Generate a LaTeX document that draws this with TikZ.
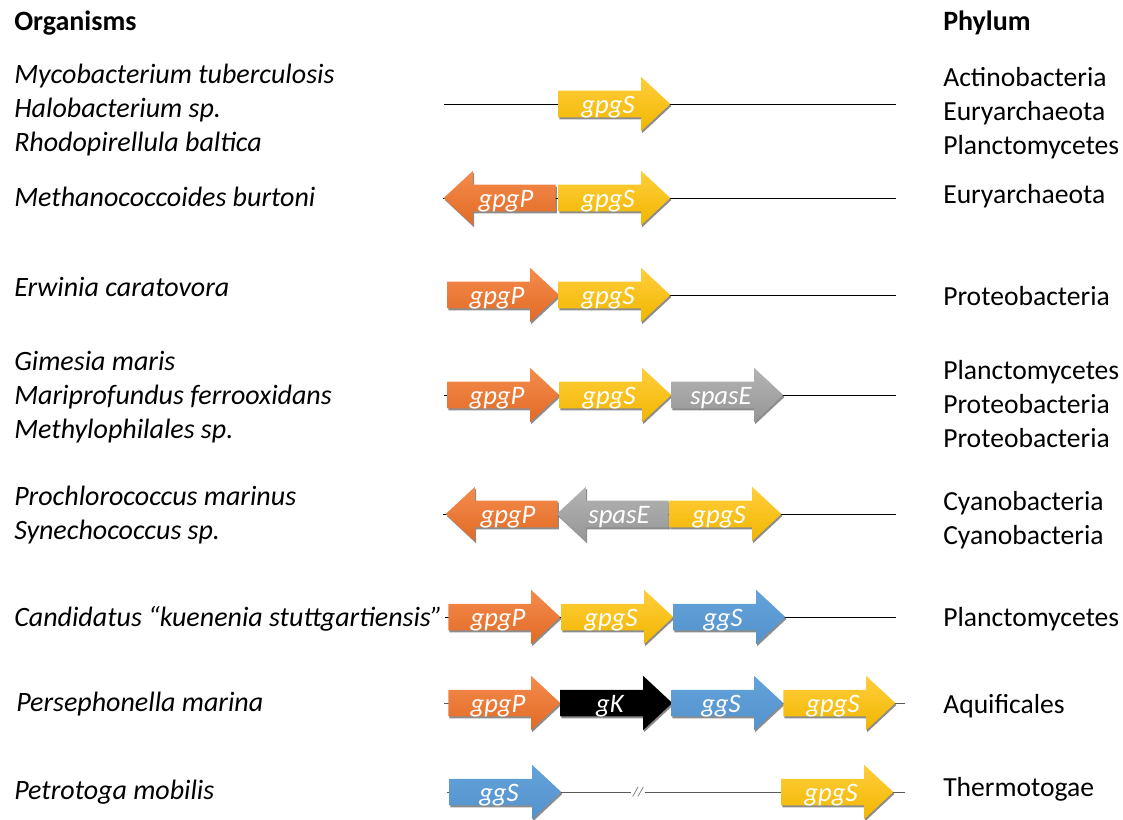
\documentclass[tikz,border=0pt]{standalone}
\usepackage{fontspec}
\setmainfont{Carlito}
\usetikzlibrary{shapes.arrows, shadows, calc}
\definecolor{orangetop}{RGB}{244,140,78}
\definecolor{orangebot}{RGB}{226,106,36}
\definecolor{goldtop}{RGB}{255,206,60}
\definecolor{goldbot}{RGB}{242,182,0}
\definecolor{greytop}{RGB}{180,180,180}
\definecolor{greybot}{RGB}{150,150,150}
\definecolor{bluetop}{RGB}{100,162,218}
\definecolor{bluebot}{RGB}{84,146,204}
\definecolor{blacktop}{RGB}{0,0,0}
\definecolor{blackbot}{RGB}{0,0,0}

\begin{document}
\begin{tikzpicture}[
    x=0.75pt, y=-0.75pt,
    gene/.style={single arrow, draw=none, inner xsep=0pt, inner ysep=9.75pt,
                 minimum height=84pt, minimum width=40.5pt,
                 single arrow head extend=10.5pt,
                 single arrow tip angle=86, anchor=tail,
                 top color=#1top, bottom color=#1bot,
                 drop shadow={shadow xshift=0.8pt, shadow yshift=-1.5pt,
                              opacity=0.45, fill=black}},
    rev/.style={shape border rotate=180},
    glabel/.style={anchor=base, text=white, inner sep=0pt,
                   font=\fontsize{20}{22}\selectfont\itshape},
    org/.style={anchor=base west, align=left, inner sep=0pt,
                font=\fontsize{21}{25.5}\selectfont\itshape},
    phy/.style={anchor=base west, align=left, inner sep=0pt,
                font=\fontsize{20.7}{25.5}\selectfont},
    head/.style={anchor=base west, inner sep=0pt,
                 font=\fontsize{21}{24}\selectfont\bfseries},
    dna/.style={draw=black, line width=0.6pt},
    dnagrey/.style={draw=black!65, line width=0.6pt}
  ]
  \useasboundingbox (0,0) rectangle (1123,819);

  % column headers
  \node[head] (orghead) at (14,30)  {Organisms};
  \node[head] (phyhead) at (943,30) {Phylum};

  % organisms (base = last line)
  \node[org] (org1) at (14,151) {Mycobacterium tuberculosis\\Halobacterium sp.\\Rhodopirellula baltica};
  \node[org] (org2) at (14,206) {Methanococcoides burtoni};
  \node[org] (org3) at (14,296) {Erwinia caratovora};
  \node[org] (org4) at (14,438) {Gimesia maris\\Mariprofundus ferrooxidans\\Methylophilales sp.};
  \node[org] (org5) at (14,539) {Prochlorococcus marinus\\Synechococcus sp.};
  \node[org] (org6) at (14,626) {Candidatus “kuenenia stuttgartiensis”};
  \node[org] (org7) at (16,711) {Persephonella marina};
  \node[org] (org8) at (14,799) {Petrotoga mobilis};

  % phyla
  \node[phy] (phy1) at (943,154) {Actinobacteria\\Euryarchaeota\\Planctomycetes};
  \node[phy] (phy2) at (943,203) {Euryarchaeota};
  \node[phy] (phy3) at (943,305) {Proteobacteria};
  \node[phy] (phy4) at (943,447) {Planctomycetes\\Proteobacteria\\Proteobacteria};
  \node[phy] (phy5) at (943,544) {Cyanobacteria\\Cyanobacteria};
  \node[phy] (phy6) at (943,626) {Planctomycetes};
  \node[phy] (phy7) at (943,713) {Aquificales};
  \node[phy] (phy8) at (943,796) {Thermotogae};

  % chromosome lines
  \coordinate (l1a) at (444,104); \coordinate (l1b) at (896,104);
  \coordinate (l2a) at (443,198); \coordinate (l2b) at (896,198);
  \coordinate (l3a) at (447,295); \coordinate (l3b) at (896,295);
  \coordinate (l4a) at (444,395); \coordinate (l4b) at (896,395);
  \coordinate (l5a) at (443,514); \coordinate (l5b) at (896,514);
  \coordinate (l6a) at (445,617); \coordinate (l6b) at (896,617);
  \coordinate (l7a) at (444,703); \coordinate (l7b) at (905,703);
  \coordinate (l8a) at (447,792); \coordinate (l8b) at (905,792);
  \node[inner sep=1.5pt, text=black!60, font=\fontsize{10}{12}\selectfont\itshape]
    (brk) at (638,792) {//};
  \draw[dna] (l1a) -- (l1b);
  \draw[dna] (l2a) -- (l2b);
  \draw[dna] (l3a) -- (l3b);
  \draw[dna] (l4a) -- (l4b);
  \draw[dna] (l5a) -- (l5b);
  \draw[dna] (l6a) -- (l6b);
  \draw[dnagrey] (l7a) -- (l7b);
  \draw[dnagrey] (l8a) -- (brk.west);
  \draw[dnagrey] (brk.east) -- (l8b);

  % gene clusters
  \node[gene=gold] (gpgS1) at (558,104) {};

  \node[gene=orange, rev] (gpgP2) at (556,198) {};
  \node[gene=gold] (gpgS2) at (558,198) {};

  \node[gene=orange] (gpgP3) at (447,295) {};
  \node[gene=gold]   (gpgS3) at (558,295) {};

  \node[gene=orange] (gpgP4)  at (447,395) {};
  \node[gene=gold]   (gpgS4)  at (559,395) {};
  \node[gene=grey]   (spasE4) at (671,395) {};

  \node[gene=orange, rev] (gpgP5)  at (558,514) {};
  \node[gene=grey, rev]   (spasE5) at (669,514) {};
  \node[gene=gold]        (gpgS5)  at (669,514) {};

  \node[gene=orange] (gpgP6) at (448,617) {};
  \node[gene=gold]   (gpgS6) at (561,617) {};
  \node[gene=blue]   (ggS6)  at (673,617) {};

  \node[gene=orange] (gpgP7) at (448,703) {};
  \node[gene=black]  (gK7)   at (560,703) {};
  \node[gene=blue]   (ggS7)  at (671,703) {};
  \node[gene=gold]   (gpgS7) at (783,703) {};

  \node[gene=blue] (ggS8)  at (449,792) {};
  \node[gene=gold] (gpgS8) at (781,792) {};

  % gene names
  \node[glabel] at ($(gpgS1.tail)+(50,9)$)  {gpgS};
  \node[glabel] at ($(gpgP2.tail)+(-50,9)$) {gpgP};
  \node[glabel] at ($(gpgS2.tail)+(50,9)$)  {gpgS};
  \node[glabel] at ($(gpgP3.tail)+(50,9)$)  {gpgP};
  \node[glabel] at ($(gpgS3.tail)+(50,9)$)  {gpgS};
  \node[glabel] at ($(gpgP4.tail)+(50,9)$)  {gpgP};
  \node[glabel] at ($(gpgS4.tail)+(50,9)$)  {gpgS};
  \node[glabel] at ($(spasE4.tail)+(50,9)$) {spasE};
  \node[glabel] at ($(gpgP5.tail)+(-50,9)$) {gpgP};
  \node[glabel] at ($(spasE5.tail)+(-50,9)$) {spasE};
  \node[glabel] at ($(gpgS5.tail)+(50,9)$)  {gpgS};
  \node[glabel] at ($(gpgP6.tail)+(50,9)$)  {gpgP};
  \node[glabel] at ($(gpgS6.tail)+(50,9)$)  {gpgS};
  \node[glabel] at ($(ggS6.tail)+(50,9)$)   {ggS};
  \node[glabel] at ($(gpgP7.tail)+(50,9)$)  {gpgP};
  \node[glabel] at ($(gK7.tail)+(50,9)$)    {gK};
  \node[glabel] at ($(ggS7.tail)+(50,9)$)   {ggS};
  \node[glabel] at ($(gpgS7.tail)+(50,9)$)  {gpgS};
  \node[glabel] at ($(ggS8.tail)+(50,9)$)   {ggS};
  \node[glabel] at ($(gpgS8.tail)+(50,9)$)  {gpgS};
\end{tikzpicture}
\end{document}
